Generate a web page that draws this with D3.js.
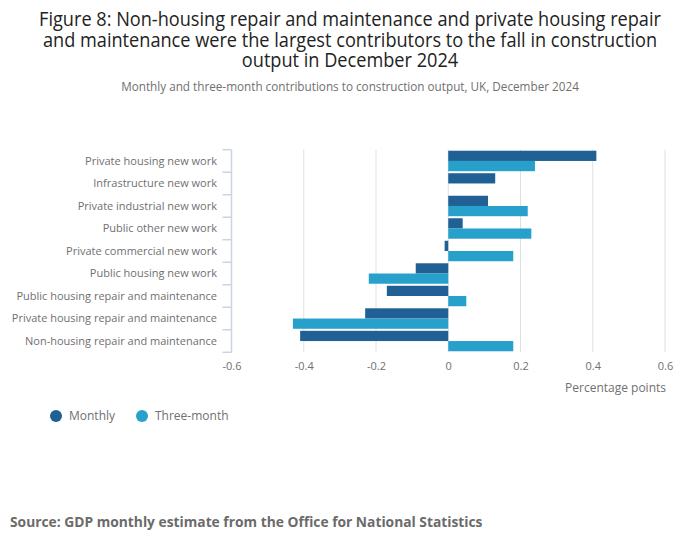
<!DOCTYPE html>
<html>
<head>
<meta charset="utf-8">
<script src="https://cdn.jsdelivr.net/npm/d3@7"></script>
<style>
  body { margin: 0; background: #fff; font-family: "Open Sans", sans-serif; }
  svg { display: block; }
</style>
</head>
<body>
<div id="chart"></div>
<script>
const categories = [
  "Private housing new work",
  "Infrastructure new work",
  "Private industrial new work",
  "Public other new work",
  "Private commercial new work",
  "Public housing new work",
  "Public housing repair and maintenance",
  "Private housing repair and maintenance",
  "Non-housing repair and maintenance"
];
const seriesNames = ["Monthly", "Three-month"];
const monthly = [0.41, 0.13, 0.11, 0.04, -0.01, -0.09, -0.17, -0.23, -0.41];
const threeMonth = [0.24, 0, 0.22, 0.23, 0.18, -0.22, 0.05, -0.43, 0.18];
const xTicks = [-0.6, -0.4, -0.2, 0, 0.2, 0.4, 0.6];
const colours = ["#206095", "#27a0cc"];

const titleLines = [
  "Figure 8: Non-housing repair and maintenance and private housing repair",
  "and maintenance were the largest contributors to the fall in construction",
  "output in December 2024"
];
const subtitle = "Monthly and three-month contributions to construction output, UK, December 2024";
const source = "Source: GDP monthly estimate from the Office for National Statistics";

const W = 700, H = 549;
const margin = {top: 149.7, left: 231.5, right: 35, bottom: 196.7};
const width = W - margin.left - margin.right;
const height = H - margin.top - margin.bottom;

const svg = d3.select("#chart").append("svg")
  .attr("width", W).attr("height", H);

// Titles (the original uses a narrow face, so squeeze horizontally)
svg.append("g").selectAll("g")
  .data(titleLines)
  .enter().append("g")
  .attr("transform", (d, i) => `translate(${W / 2},${26 + i * 20.5}) scale(0.89,1)`)
  .append("text")
  .attr("text-anchor", "middle")
  .attr("font-size", 20.4)
  .attr("fill", "#222")
  .text(d => d);

svg.append("g")
  .attr("transform", `translate(${W / 2},90.5) scale(0.875,1)`)
  .append("text")
  .attr("text-anchor", "middle")
  .attr("font-size", 13.4)
  .attr("fill", "#707070")
  .text(subtitle);

const g = svg.append("g")
  .attr("transform", `translate(${margin.left},${margin.top})`);

// Scales
const x = d3.scaleLinear().domain([-0.6, 0.6]).range([0, width]);
const y = d3.scaleBand().domain(categories).range([0, height]);
const ySub = d3.scaleBand().domain(seriesNames)
  .range([0, y.bandwidth()]).paddingInner(0).paddingOuter(0.1);

// Gridlines
g.append("g").selectAll("line")
  .data(xTicks)
  .enter().append("line")
  .attr("x1", d => x(d)).attr("x2", d => x(d))
  .attr("y1", 0).attr("y2", height)
  .attr("stroke", "#e0e0e0")
  .attr("stroke-width", 1);

// X axis labels
g.append("g")
  .attr("transform", `translate(0,${height})`)
  .call(d3.axisBottom(x).tickValues(xTicks).tickSize(0).tickPadding(10)
    .tickFormat(d => d === 0 ? "0" : d3.format("")(d).replace("−", "-")))
  .call(a => a.select(".domain").remove())
  .call(a => a.selectAll("text")
    .attr("font-family", "Open Sans, sans-serif")
    .attr("font-size", 11)
    .attr("fill", "#707070"));

g.append("text")
  .attr("x", width + 1).attr("y", height + 40)
  .attr("text-anchor", "end")
  .attr("font-size", 12)
  .attr("fill", "#707070")
  .text("Percentage points");

// Bars
const data = categories.map((c, i) => ({cat: c, vals: [monthly[i], threeMonth[i]]}));
const groups = g.append("g").selectAll("g")
  .data(data)
  .enter().append("g")
  .attr("transform", d => `translate(0,${y(d.cat)})`);

groups.selectAll("rect")
  .data(d => d.vals.map((v, j) => ({name: seriesNames[j], v, j})))
  .enter().append("rect")
  .attr("x", d => x(Math.min(0, d.v)))
  .attr("width", d => Math.abs(x(d.v) - x(0)))
  .attr("y", d => ySub(d.name))
  .attr("height", ySub.bandwidth())
  .attr("fill", d => colours[d.j]);

// Y axis with ticks between bands
const yAxisG = g.append("g");
yAxisG.append("line")
  .attr("x1", 0).attr("x2", 0).attr("y1", 0).attr("y2", height)
  .attr("stroke", "#ccd3e4").attr("stroke-width", 1.5);
yAxisG.selectAll(".tk")
  .data(d3.range(categories.length + 1))
  .enter().append("line")
  .attr("x1", -9).attr("x2", 0)
  .attr("y1", i => i * y.step()).attr("y2", i => i * y.step())
  .attr("stroke", "#ccd3e4").attr("stroke-width", 1.5);
yAxisG.selectAll("text")
  .data(categories)
  .enter().append("text")
  .attr("x", -14.5)
  .attr("y", d => y(d) + y.bandwidth() / 2)
  .attr("dy", "0.35em")
  .attr("text-anchor", "end")
  .attr("font-size", 11)
  .attr("fill", "#707070")
  .text(d => d);

// Legend
const legend = svg.append("g").attr("transform", "translate(56,416)");
const legendX = [0, 86];
seriesNames.forEach((s, i) => {
  legend.append("circle")
    .attr("cx", legendX[i]).attr("cy", 0).attr("r", 6)
    .attr("fill", colours[i]);
  legend.append("text")
    .attr("x", legendX[i] + 13).attr("y", 0).attr("dy", "0.35em")
    .attr("font-size", 12).attr("fill", "#707070")
    .text(s);
});

svg.append("text")
  .attr("x", 10).attr("y", 527)
  .attr("font-size", 13.8).attr("font-weight", "bold")
  .attr("fill", "#6b6b6b")
  .text(source);
</script>
</body>
</html>
